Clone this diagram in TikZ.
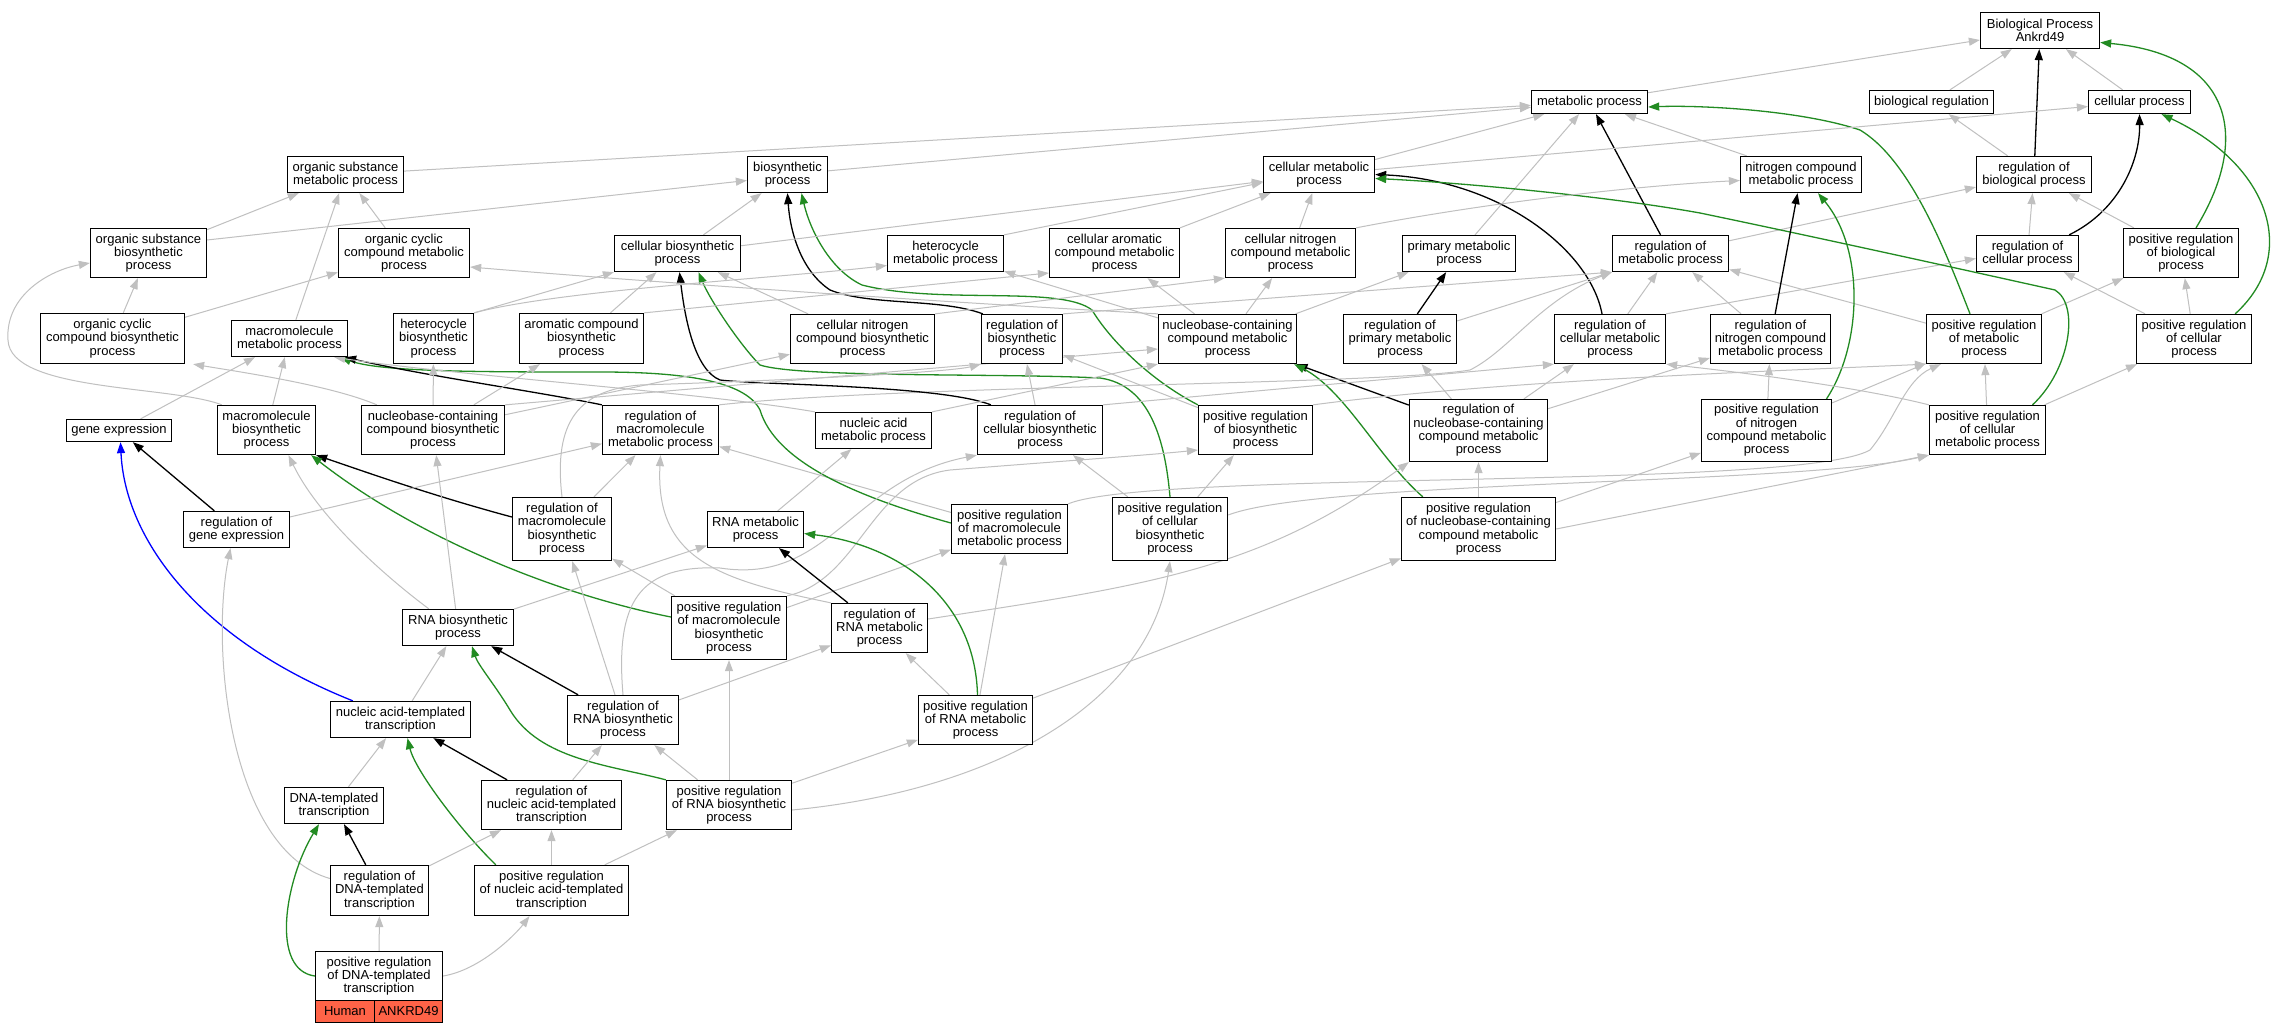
\documentclass[tikz,border=0pt]{standalone}
\usepackage{fontspec}
\setmainfont{Liberation Sans}
\usetikzlibrary{arrows.meta}
\definecolor{eg}{RGB}{192,192,192}
\definecolor{egreen}{RGB}{34,139,34}
\definecolor{tomatocol}{RGB}{255,99,71}
\newcommand\nodefont{\fontsize{13pt}{13.3pt}\selectfont}
\pgfdeclarelayer{edges}
\pgfsetlayers{edges,main}
\tikzset{
 box/.style={draw=black, line width=1.3pt, fill=white, align=center, inner sep=0pt, font=\nodefont},
 arrowtip/.style={-{Triangle[length=11pt,width=8pt]}},
 ga/.style={draw=eg, line width=1pt, arrowtip},
 ba/.style={draw=black, line width=1.3pt, arrowtip},
 gr/.style={draw=egreen, line width=1.3pt, arrowtip},
 bl/.style={draw=blue, line width=1.3pt, arrowtip},
}
\newcommand\bx[7][]{%
 \pgfmathsetmacro\bxl{round(#3-#5/2)+0.5}%
 \pgfmathsetmacro\bxr{round(#3+#5/2)+0.5}%
 \pgfmathsetmacro\bxt{round(#4-#6/2)+0.5}%
 \pgfmathsetmacro\bxb{round(#4+#6/2)+0.5}%
 \pgfmathsetmacro\bxw{\bxr-\bxl}%
 \pgfmathsetmacro\bxh{\bxb-\bxt}%
 \pgfmathsetmacro\bxx{(\bxl+\bxr)/2}%
 \pgfmathsetmacro\bxy{(\bxt+\bxb)/2}%
 \node[box,#1,minimum width=\bxw pt,minimum height=\bxh pt] (#2) at (\bxx,\bxy) {#7};}
\begin{document}
\begin{tikzpicture}[x=1pt,y=-1pt]
\useasboundingbox (0,0) rectangle (2274,1032);
% nodes
\bx{BP}{2039.7}{29.7}{118.6}{36}{Biological Process\\Ankrd49}
\bx{mp}{1589}{101.8}{116}{23}{metabolic process}
\bx{breg}{1930.5}{101.8}{124}{23}{biological regulation}
\bx{cp}{2139}{101.8}{101.4}{23}{cellular process}
\bx{osm}{345}{174}{116}{36}{organic substance\\metabolic process}
\bx{bp}{787}{174}{80}{36}{biosynthetic\\process}
\bx{cmp}{1318.5}{174}{110.6}{36}{cellular metabolic\\process}
\bx{ncm}{1800.5}{174}{120.4}{36}{nitrogen compound\\metabolic process}
\bx{rbio}{2033.9}{174}{115}{36}{regulation of\\biological process}
\bx{osb}{148}{252.5}{116}{49}{organic substance\\biosynthetic\\process}
\bx{occm}{403.5}{252.5}{131}{49}{organic cyclic\\compound metabolic\\process}
\bx{cbp}{676.5}{252.7}{126}{36}{cellular biosynthetic\\process}
\bx{hmp}{945}{253}{116}{36}{heterocycle\\metabolic process}
\bx{cacm}{1114}{252.5}{130.6}{49}{cellular aromatic\\compound metabolic\\process}
\bx{cncm}{1290}{252.5}{130.6}{49}{cellular nitrogen\\compound metabolic\\process}
\bx{pmp}{1458.5}{252.7}{113}{36}{primary metabolic\\process}
\bx{rmp}{1670.3}{252.7}{116}{36}{regulation of\\metabolic process}
\bx{rcp}{2027}{252.7}{101.4}{36}{regulation of\\cellular process}
\bx{prbio}{2180.5}{252.5}{114.6}{49}{positive regulation\\of biological\\process}
\bx{occb}{112}{338}{144}{50}{organic cyclic\\compound biosynthetic\\process}
\bx{mmp}{289}{338}{116}{36}{macromolecule\\metabolic process}
\bx{hbp}{432.6}{338}{80}{50}{heterocycle\\biosynthetic\\process}
\bx{acb}{581}{338}{124}{50}{aromatic compound\\biosynthetic\\process}
\bx{cncb}{861.6}{338}{144}{49}{cellular nitrogen\\compound biosynthetic\\process}
\bx{rbp}{1021.3}{338}{81.4}{49}{regulation of\\biosynthetic\\process}
\bx{ncb}{1227}{338}{138.7}{49}{nucleobase-containing\\compound metabolic\\process}
\bx{rpm}{1399.6}{338}{113}{49}{regulation of\\primary metabolic\\process}
\bx{rcm}{1609}{338}{111}{49}{regulation of\\cellular metabolic\\process}
\bx{rncm}{1769.8}{338}{120.5}{49}{regulation of\\nitrogen compound\\metabolic process}
\bx{prmp}{1983.2}{338}{114.6}{49}{positive regulation\\of metabolic\\process}
\bx{prcp}{2193.7}{338}{114.6}{49}{positive regulation\\of cellular\\process}
\bx{ge}{118.5}{429.8}{105.5}{22.3}{gene expression}
\bx{mbp}{266}{429.7}{98.4}{49.3}{macromolecule\\biosynthetic\\process}
\bx{nccb}{432.4}{429.7}{143.5}{49.3}{nucleobase-containing\\compound biosynthetic\\process}
\bx{rmmp}{659.7}{429.7}{115.8}{49.3}{regulation of\\macromolecule\\metabolic process}
\bx{nam}{873.3}{429.8}{116.2}{36.3}{nucleic acid\\metabolic process}
\bx{rcbp}{1039.2}{429.7}{125.4}{49.3}{regulation of\\cellular biosynthetic\\process}
\bx{prbp}{1255}{429.7}{114.7}{49.3}{positive regulation\\of biosynthetic\\process}
\bx{rnccm}{1477.9}{429.8}{138.8}{62.3}{regulation of\\nucleobase-containing\\compound metabolic\\process}
\bx{prncm}{1766}{429.8}{130.6}{62.3}{positive regulation\\of nitrogen\\compound metabolic\\process}
\bx{prcm}{1986.5}{429.7}{116}{49.3}{positive regulation\\of cellular\\metabolic process}
\bx{rge}{235.8}{528.7}{105.4}{36}{regulation of\\gene expression}
\bx{rmbp}{561.7}{528.7}{98.7}{62.7}{regulation of\\macromolecule\\biosynthetic\\process}
\bx{rnam}{755.3}{528.7}{96.2}{36}{RNA metabolic\\process}
\bx{prmmp}{1009.1}{528.5}{115.4}{49}{positive regulation\\of macromolecule\\metabolic process}
\bx{prcbp}{1169.8}{528.7}{115}{62.7}{positive regulation\\of cellular\\biosynthetic\\process}
\bx{prnccm}{1478.1}{528.7}{154.6}{62.7}{positive regulation\\of nucleobase-containing\\compound metabolic\\process}
\bx{rnabp}{457.4}{627.3}{110.6}{36}{RNA biosynthetic\\process}
\bx{prmbp}{728.5}{627.3}{115}{62.7}{positive regulation\\of macromolecule\\biosynthetic\\process}
\bx{rrnam}{879.2}{627.3}{96.2}{49.3}{regulation of\\RNA metabolic\\process}
\bx{natt}{399.7}{719}{140.2}{36}{nucleic acid-templated\\transcription}
\bx{rnabr}{622.5}{719.2}{111}{49}{regulation of\\RNA biosynthetic\\process}
\bx{prrnam}{975}{719.2}{114.7}{49}{positive regulation\\of RNA metabolic\\process}
\bx{dtt}{333.8}{804.7}{98.7}{36}{DNA-templated\\transcription}
\bx{rnatt}{550.6}{804.7}{140.2}{49.3}{regulation of\\nucleic acid-templated\\transcription}
\bx{prrnabp}{728.5}{804.3}{125.4}{49.3}{positive regulation\\of RNA biosynthetic\\process}
\bx{rdtt}{379}{890}{98.7}{49.3}{regulation of\\DNA-templated\\transcription}
\bx{prnatt}{551.1}{890}{154.6}{49.3}{positive regulation\\of nucleic acid-templated\\transcription}
\bx{prdtt}{378.4}{975.35}{127.2}{49.3}{positive regulation\\of DNA-templated\\transcription}
\bx[fill=tomatocol]{hum}{344.4}{1010.85}{59.2}{21.7}{Human}
\bx[fill=tomatocol]{ank}{408}{1010.85}{68}{21.7}{ANKRD49}
\begin{pgfonlayer}{edges}
\fill[white] (0,0) rectangle (2274,1032);
% top
\draw[ga] (mp) -- (BP);
\draw[ga] (breg) -- (BP);
\draw[ga] (cp) -- (BP);
\draw[ba] (rbio) -- (BP);
\draw[gr] ([xshift=15pt]prbio.north) .. controls (2250,140) and (2235,55) .. ([yshift=-12pt]BP.east);
\draw[ga] (osm) -- (mp);
\draw[ga] (bp) -- (mp);
\draw[ga] (cmp) -- (mp);
\draw[ga] (pmp) -- (mp);
\draw[ga] (ncm) -- (mp);
\draw[ba] (rmp) -- (mp);
\draw[gr] ([xshift=-14pt]prmp.north) .. controls (1945,250) and (1910,160) .. (1860,130) .. controls (1800,110) and (1700,105) .. ([yshift=-5pt]mp.east);
\draw[ga] (cmp) -- (cp);
\draw[ba] ([xshift=-10pt]rcp.north east) .. controls (2120,210) and (2140,160) .. (cp.south);
\draw[gr] ([xshift=-17pt]prcp.north east) .. controls (2300,255) and (2270,165) .. ([xshift=22pt]cp.south);
\draw[ga] (rbio) -- (breg);
\draw[ga] (rcp) -- (rbio);
\draw[ga] (prbio) -- (rbio);
\draw[ga] (rmp) -- (rbio);
\draw[ga] (prcp) -- (rcp);
\draw[ga] (prcp) -- (prbio);
\draw[ga] (prmp) -- (prbio);
\draw[ga] (prmp) -- (rmp);
\draw[ga] (rcm.north east) -- ([yshift=-5pt]rcp.west);
\draw[ga] (rcm) -- (rmp);
\draw[ba] ([xshift=-8pt]rcm.north) .. controls (1590,250) and (1500,180) .. (cmp.east);
\draw[gr] ([xshift=45pt]prcm.north) .. controls (2070,370) and (2080,305) .. (2055,290) .. controls (2010,280) and (1830,240) .. (1700,213) .. controls (1600,195) and (1450,182) .. ([yshift=-4pt]cmp.east);
\draw[ga] (rncm) -- (rmp);
\draw[ba] (rncm) -- (ncm);
\draw[gr] ([xshift=60pt]prncm.north) .. controls (1862,345) and (1865,250) .. ([xshift=17pt]ncm.south);
\draw[ga] (prncm) -- (rncm);
\draw[ga] (prncm) -- (prmp);
\draw[ga] (prcm) -- (prmp);
\draw[ga] (prcm) -- (prcp);
\draw[ga] (prcm.north west) .. controls (1850,385) and (1720,370) .. (rcm.south east);
\draw[ga] (rnccm) -- (rpm);
\draw[ga] (rnccm) -- (rcm);
\draw[ga] (rnccm) -- (rncm);
\draw[ba] (rnccm) -- (ncb);
\draw[ga] (prnccm) -- (rnccm);
\draw[gr] ([xshift=22pt]prnccm.north west) .. controls (1380,460) and (1345,390) .. ([xshift=-3pt]ncb.south east);
\draw[ga] (prnccm) -- (prncm);
\draw[ga] (prnccm.east) -- (prcm.south west);
% cellular biosynthetic cluster
\draw[ga] (prcbp) -- (rcbp);
\draw[ga] (prcbp) -- (prbp);
\draw[ga] ([yshift=14pt]prcbp.east) .. controls (1320,480) and (1800,485) .. (prcm.south west);
\draw[gr] (prcbp.north) .. controls (1165,440) and (1150,385) .. (1100,378) .. controls (1000,373) and (800,378) .. (760,365) .. controls (740,345) and (710,300) .. ([xshift=21pt]cbp.south);
\draw[ga] (prbp) -- (rbp);
\draw[ga] (prbp.north east) .. controls (1500,380) and (1800,370) .. (prmp.south west);
\draw[gr] (prbp.north west) .. controls (1150,380) and (1110,340) .. (1092,310) .. controls (1060,285) and (940,305) .. (862,285) .. controls (830,270) and (810,230) .. ([xshift=14pt]bp.south);
\draw[ga] (prmmp) -- (rmmp);
\draw[ga] (prmmp.north east) .. controls (1150,470) and (1800,490) .. (1870,450) .. controls (1895,420) and (1905,380) .. ([xshift=15pt]prmp.south west);
\draw[gr] ([yshift=6pt]prmmp.west) .. controls (850,495) and (775,460) .. (760,410) .. controls (745,380) and (680,372) .. (600,372) .. controls (480,372) and (380,372) .. ([xshift=-8pt]mmp.south east);
\draw[ba] (rmmp.north west) .. controls (540,392) and (420,375) .. ([xshift=-3pt]mmp.south east);
\draw[ga] (rmmp.north east) .. controls (900,385) and (1380,385) .. (1470,370) .. controls (1510,350) and (1540,300) .. (rmp.south west);
\draw[ga] (rcbp) -- (rbp);
\draw[ga] (rcbp.north east) -- (rcm.south west);
\draw[ba] ([xshift=14pt]rcbp.north west) .. controls (940,385) and (760,385) .. (720,380) .. controls (695,370) and (685,320) .. ([xshift=2pt]cbp.south);
\draw[ga] (rbp.north east) -- (rmp.south west);
\draw[ba] ([xshift=2pt]rbp.north west) .. controls (940,298) and (870,306) .. (830,290) .. controls (800,270) and (790,230) .. (bp.south);
\draw[ga] (rmbp) -- (rmmp);
\draw[ga] (rmbp.north) .. controls (553,420) and (580,390) .. (640,385) .. controls (800,380) and (950,372) .. (rbp.south west);
\draw[ba] ([yshift=12pt]rmbp.west) .. controls (430,495) and (360,470) .. (mbp.south east);
\draw[ga] (prmbp) -- (rmbp);
\draw[ga] (prmbp) -- (prmmp);
\draw[ga] (prmbp.north east) .. controls (860,580) and (870,480) .. (950,470) .. controls (1050,462) and (1150,455) .. ([yshift=-20pt]prbp.west);
\draw[gr] ([yshift=11pt]prmbp.west) .. controls (560,595) and (420,540) .. ([xshift=-5pt]mbp.south east);
% gene expression etc
\draw[ba] (rge) -- (ge);
\draw[ga] (rge) -- (rmmp);
\draw[ga] (ge) -- (mmp);
\draw[ga] (mbp) -- (mmp);
\draw[ga] ([xshift=5pt]mbp.north west) .. controls (170,385) and (10,392) .. (8,340) .. controls (5,295) and (50,270) .. ([yshift=-10pt]osb.west);
\draw[ga] (nccb) -- (hbp);
\draw[ga] (nccb) -- (acb);
\draw[ga] ([xshift=16pt]nccb.north west) .. controls (330,385) and (240,372) .. ([xshift=8pt]occb.south east);
\draw[ga] (nccb) -- (cncb);
\draw[ga] (nccb.north east) -- ([yshift=-10pt]ncb.west);
\draw[ga] (nam.north east) -- (ncb.south west);
\draw[ga] (nam.north west) .. controls (700,392) and (450,375) .. ([xshift=-14pt]mmp.south east);
\draw[ga] (rnam) -- (nam);
\draw[ga] (rnabp) -- (rnam);
\draw[ga] (rnabp) -- (nccb);
\draw[ga] ([xshift=27pt]rnabp.north west) .. controls (390,580) and (320,520) .. ([xshift=22pt]mbp.south);
\draw[ga] (natt) -- (rnabp);
\draw[bl] ([xshift=23pt]natt.north west) .. controls (200,640) and (125,540) .. ([xshift=1.5pt]ge.south);
\draw[ba] (rnabr) -- (rnabp);
\draw[ga] (rnabr) -- (rrnam);
\draw[ga] (rnabr) -- (rmbp);
\draw[ga] (rnabr.north) .. controls (615,600) and (640,565) .. (720,568) .. controls (830,585) and (850,480) .. (rcbp.south west);
\draw[ba] (rrnam) -- (rnam);
\draw[ga] ([yshift=9pt]rrnam.east) .. controls (1150,585) and (1260,570) .. (rnccm.south west);
\draw[ga] (rrnam.north west) .. controls (720,580) and (655,560) .. (rmmp.south);
\draw[ga] (prrnam) -- (rrnam);
\draw[ga] (prrnam) -- (prmmp);
\draw[ga] (prrnam) -- (prnccm);
\draw[gr] ([xshift=2pt]prrnam.north) .. controls (975,600) and (900,545) .. ([yshift=-4pt]rnam.east);
\draw[ga] (prrnabp) -- (rnabr);
\draw[ga] (prrnabp) -- (prmbp);
\draw[ga] (prrnabp) -- (prrnam);
\draw[ga] ([yshift=-5pt]prrnabp.east) .. controls (1000,790) and (1150,700) .. (prcbp.south);
\draw[gr] (prrnabp.north west) .. controls (610,765) and (540,760) .. (510,710) .. controls (495,685) and (478,665) .. ([xshift=14pt]rnabp.south);
\draw[ba] (rnatt) -- (natt);
\draw[ga] (rnatt) -- (rnabr);
\draw[ga] (prnatt) -- (rnatt);
\draw[ga] (prnatt) -- (prrnabp);
\draw[gr] ([xshift=22pt]prnatt.north west) .. controls (460,830) and (415,770) .. ([xshift=7pt]natt.south);
\draw[ba] (rdtt) -- (dtt);
\draw[ga] (rdtt) -- (rnatt);
\draw[ga] ([yshift=12pt]rdtt.west) .. controls (230,850) and (210,650) .. ([xshift=-6pt]rge.south);
\draw[ga] (dtt) -- (natt);
\draw[ga] (prdtt) -- (rdtt);
\draw[ga] (prdtt.east) .. controls (480,970) and (515,935) .. ([xshift=-22pt]prnatt.south);
\draw[gr] (prdtt.west) .. controls (270,970) and (285,880) .. ([xshift=-15pt]dtt.south);
% upper middle
\draw[ga] (occb) -- (osb);
\draw[ga] (occb) -- (occm);
\draw[ga] (osb) -- (osm);
\draw[ga] ([yshift=13pt]osb.east) -- ([yshift=-6pt]bp.west);
\draw[ga] (mmp) -- (osm);
\draw[ga] (occm) -- (osm);
\draw[ga] (cbp) -- (bp);
\draw[ga] (cbp) -- (cmp);
\draw[ga] (hmp.north east) -- ([yshift=-8pt]cmp.west);
\draw[ga] (cacm) -- (cmp);
\draw[ga] (cncm) -- (cmp);
\draw[ga] (cncm.north east) .. controls (1500,200) and (1650,185) .. ([yshift=-6pt]ncm.west);
\draw[ga] (hbp.north east) -- (cbp.south west);
\draw[ga] (hbp.north east) .. controls (560,290) and (780,278) .. ([yshift=-12pt]hmp.west);
\draw[ga] (acb) -- (cbp);
\draw[ga] (acb.north east) -- ([yshift=-20pt]cacm.west);
\draw[ga] (cncb) -- (cbp);
\draw[ga] (cncb.north east) -- (cncm.south west);
\draw[ga] (ncb) -- (cacm);
\draw[ga] (ncb) -- (cncm);
\draw[ga] (ncb) -- (pmp);
\draw[ga] (ncb) -- (hmp);
\draw[ga] (ncb.north west) .. controls (900,300) and (600,278) .. ([yshift=-14pt]occm.east);
\draw[ga] (rpm) -- (rmp);
\draw[ba] (rpm) -- (pmp);
\end{pgfonlayer}
\end{tikzpicture}
\end{document}
